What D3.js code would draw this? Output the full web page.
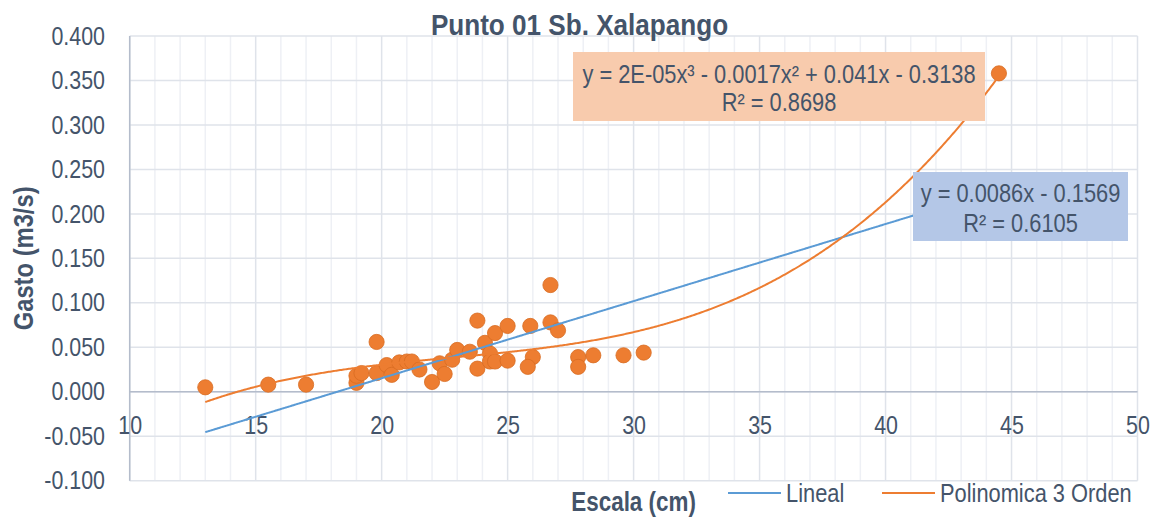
<!DOCTYPE html>
<html>
<head>
<meta charset="utf-8">
<script src="https://cdn.jsdelivr.net/npm/d3@7"></script>
<style>
html, body { margin: 0; padding: 0; background: #ffffff; }
svg text { font-family: "Liberation Sans", Arial, sans-serif; fill: #44546a; }
</style>
</head>
<body>
<svg id="chart" width="1159" height="518"></svg>
<script>
// ---------------- DATA ----------------
const chartTitle = "Punto 01 Sb. Xalapango";
const xTitle = "Escala (cm)";
const yTitle = "Gasto  (m3/s)";

const escala = [13.0, 15.5, 17.0, 19.0, 19.0, 19.2, 19.8, 19.8, 20.2, 20.4,
                20.7, 21.0, 21.2, 21.5, 22.0, 22.3, 22.5, 22.8, 23.0, 23.5,
                23.8, 23.8, 24.1, 24.3, 24.3, 24.5, 24.5, 25.0, 25.0, 25.9,
                26.0, 25.8, 26.7, 26.7, 27.0, 27.8, 27.8, 28.4, 29.6, 30.4,
                44.5];
const gasto  = [0.005, 0.008, 0.008, 0.010, 0.018, 0.021, 0.056, 0.021, 0.030, 0.019,
                0.033, 0.034, 0.034, 0.025, 0.011, 0.032, 0.020, 0.036, 0.047, 0.045,
                0.026, 0.080, 0.055, 0.043, 0.034, 0.034, 0.066, 0.035, 0.074, 0.074,
                0.039, 0.028, 0.120, 0.078, 0.069, 0.039, 0.028, 0.041, 0.041, 0.044,
                0.358];

const xTicks = [10, 15, 20, 25, 30, 35, 40, 45, 50];
const xTickLabels = ["10", "15", "20", "25", "30", "35", "40", "45", "50"];
const yTicks = [-0.1, -0.05, 0, 0.05, 0.1, 0.15, 0.2, 0.25, 0.3, 0.35, 0.4];
const yTickLabels = ["-0.100", "-0.050", "0.000", "0.050", "0.100", "0.150",
                     "0.200", "0.250", "0.300", "0.350", "0.400"];

const seriesNames = ["Lineal", "Polinomica 3 Orden"];
const linearLabel = ["y = 0.0086x - 0.1569", "R² = 0.6105"];
const polyLabel = ["y = 2E-05x³ - 0.0017x² + 0.041x - 0.3138", "R² = 0.8698"];

// ---------------- LAYOUT ----------------
const W = 1159, H = 518;
const plot = { left: 129.7, right: 1137.5, top: 36, bottom: 480.7 };
const NARROW = 0.84;   // horizontal condensation of the reference's typeface
const colors = {
  text: "#44546a", marker: "#ed7d31", markerStroke: "#d86c22",
  lin: "#5b9bd5", poly: "#ed7d31",
  gridMajor: "#dfe3ea", gridMinor: "#eef0f5", axis: "#b4bccb",
  linBox: "#b4c7e7", polyBox: "#f8cbad"
};

const svg = d3.select("#chart");
const x = d3.scaleLinear().domain([10, 50]).range([plot.left, plot.right]);
const y = d3.scaleLinear().domain([-0.1, 0.4]).range([plot.bottom, plot.top]);

// squeeze text horizontally around its anchor point
function condense(sel, s) {
  sel.each(function () {
    const el = d3.select(this);
    const ax = +el.attr("x") || 0, ay = +el.attr("y") || 0;
    const prev = el.attr("data-rot") || "";
    el.attr("transform", `translate(${ax},${ay}) scale(${s},1) translate(${-ax},${-ay})`);
  });
}

// ---------------- REGRESSION (least squares) ----------------
function polyfit(xs, ys, deg) {
  const n = deg + 1;
  const A = Array.from({length: n}, () => new Array(n).fill(0));
  const b = new Array(n).fill(0);
  xs.forEach((xv, k) => {
    for (let i = 0; i < n; i++) {
      b[i] += ys[k] * Math.pow(xv, i);
      for (let j = 0; j < n; j++) A[i][j] += Math.pow(xv, i + j);
    }
  });
  for (let i = 0; i < n; i++) {
    let p = i;
    for (let r = i + 1; r < n; r++) if (Math.abs(A[r][i]) > Math.abs(A[p][i])) p = r;
    [A[i], A[p]] = [A[p], A[i]]; [b[i], b[p]] = [b[p], b[i]];
    for (let r = i + 1; r < n; r++) {
      const f = A[r][i] / A[i][i];
      for (let c = i; c < n; c++) A[r][c] -= f * A[i][c];
      b[r] -= f * b[i];
    }
  }
  const coef = new Array(n).fill(0);
  for (let i = n - 1; i >= 0; i--) {
    let s = b[i];
    for (let c = i + 1; c < n; c++) s -= A[i][c] * coef[c];
    coef[i] = s / A[i][i];
  }
  return coef;
}
const evalPoly = (coef, xv) => coef.reduce((s, c, i) => s + c * Math.pow(xv, i), 0);
const linCoef = polyfit(escala, gasto, 1);
const polyCoef = polyfit(escala, gasto, 3);
const xMin = d3.min(escala), xMax = d3.max(escala);
const xs = d3.range(xMin, xMax + 1e-9, 0.05);

// ---------------- GRID ----------------
const grid = svg.append("g");
d3.range(10, 51, 1).forEach(v => {
  grid.append("line")
    .attr("x1", x(v)).attr("x2", x(v)).attr("y1", plot.top).attr("y2", plot.bottom)
    .attr("stroke", v % 5 === 0 ? colors.gridMajor : colors.gridMinor)
    .attr("stroke-width", 1.5);
});
yTicks.forEach(v => {
  grid.append("line")
    .attr("x1", plot.left).attr("x2", plot.right).attr("y1", y(v)).attr("y2", y(v))
    .attr("stroke", colors.gridMajor).attr("stroke-width", 1.5);
});
svg.append("line").attr("x1", x(10)).attr("x2", x(10)).attr("y1", plot.top).attr("y2", plot.bottom)
  .attr("stroke", colors.axis).attr("stroke-width", 1.5);
svg.append("line").attr("x1", plot.left).attr("x2", plot.right).attr("y1", y(0)).attr("y2", y(0))
  .attr("stroke", colors.axis).attr("stroke-width", 1.5);

// ---------------- AXES LABELS ----------------
const xAxis = svg.append("g").attr("transform", `translate(0,${y(0)})`)
  .call(d3.axisBottom(x).tickValues(xTicks).tickFormat((d, i) => xTickLabels[i]).tickSize(0).tickPadding(24.5));
const yAxis = svg.append("g").attr("transform", `translate(${plot.left},0)`)
  .call(d3.axisLeft(y).tickValues(yTicks).tickFormat((d, i) => yTickLabels[i]).tickSize(0).tickPadding(24.7));
[xAxis, yAxis].forEach(g => {
  g.attr("font-family", null).attr("font-size", null);
  g.select(".domain").remove();
  g.selectAll("text").style("font-size", "25.5px").style("fill", colors.text).call(condense, NARROW);
});

// ---------------- POINTS ----------------
svg.append("g").selectAll("circle").data(escala).join("circle")
  .attr("cx", d => x(d)).attr("cy", (d, i) => y(gasto[i])).attr("r", 7.6)
  .attr("fill", colors.marker).attr("stroke", colors.markerStroke).attr("stroke-width", 0.8);

// ---------------- TRENDLINES ----------------
const line = d3.line().x(d => x(d[0])).y(d => y(d[1]));
svg.append("path").datum(xs.map(v => [v, evalPoly(linCoef, v)]))
  .attr("d", line).attr("fill", "none").attr("stroke", colors.lin).attr("stroke-width", 2);
svg.append("path").datum(xs.map(v => [v, evalPoly(polyCoef, v)]))
  .attr("d", line).attr("fill", "none").attr("stroke", colors.poly).attr("stroke-width", 2);

// ---------------- EQUATION LABELS ----------------
function eqBox(x0, y0, w, h, fill, lines, baselines) {
  const g = svg.append("g");
  g.append("rect").attr("x", x0).attr("y", y0).attr("width", w).attr("height", h).attr("fill", fill);
  lines.forEach((t, i) => {
    g.append("text").attr("x", x0 + w / 2).attr("y", baselines[i])
      .attr("text-anchor", "middle").style("font-size", "26px").text(t).call(condense, NARROW);
  });
}
eqBox(573, 52, 412, 69, colors.polyBox, polyLabel, [83, 111]);
eqBox(913, 172, 215, 69, colors.linBox, linearLabel, [202, 232]);

// ---------------- TITLES ----------------
svg.append("text").attr("x", W / 2).attr("y", 35).attr("text-anchor", "middle")
  .style("font-size", "30px").style("font-weight", "bold").text(chartTitle).call(condense, 0.87);
svg.append("text").attr("x", (plot.left + plot.right) / 2).attr("y", 511).attr("text-anchor", "middle")
  .style("font-size", "27px").style("font-weight", "bold").text(xTitle).call(condense, 0.83);
svg.append("text").attr("transform", `translate(33,${(plot.top + plot.bottom) / 2}) rotate(-90) scale(0.88,1)`)
  .attr("text-anchor", "middle").style("font-size", "27px").style("font-weight", "bold").text(yTitle);

// ---------------- LEGEND ----------------
const legendItems = [
  { name: seriesNames[0], color: colors.lin, x: 728 },
  { name: seriesNames[1], color: colors.poly, x: 882 }
];
const lg = svg.append("g");
legendItems.forEach(it => {
  lg.append("line").attr("x1", it.x).attr("x2", it.x + 53).attr("y1", 493).attr("y2", 493)
    .attr("stroke", it.color).attr("stroke-width", 2);
  lg.append("text").attr("x", it.x + 58).attr("y", 502.5).style("font-size", "26px")
    .text(it.name).call(condense, NARROW);
});
</script>
</body>
</html>
